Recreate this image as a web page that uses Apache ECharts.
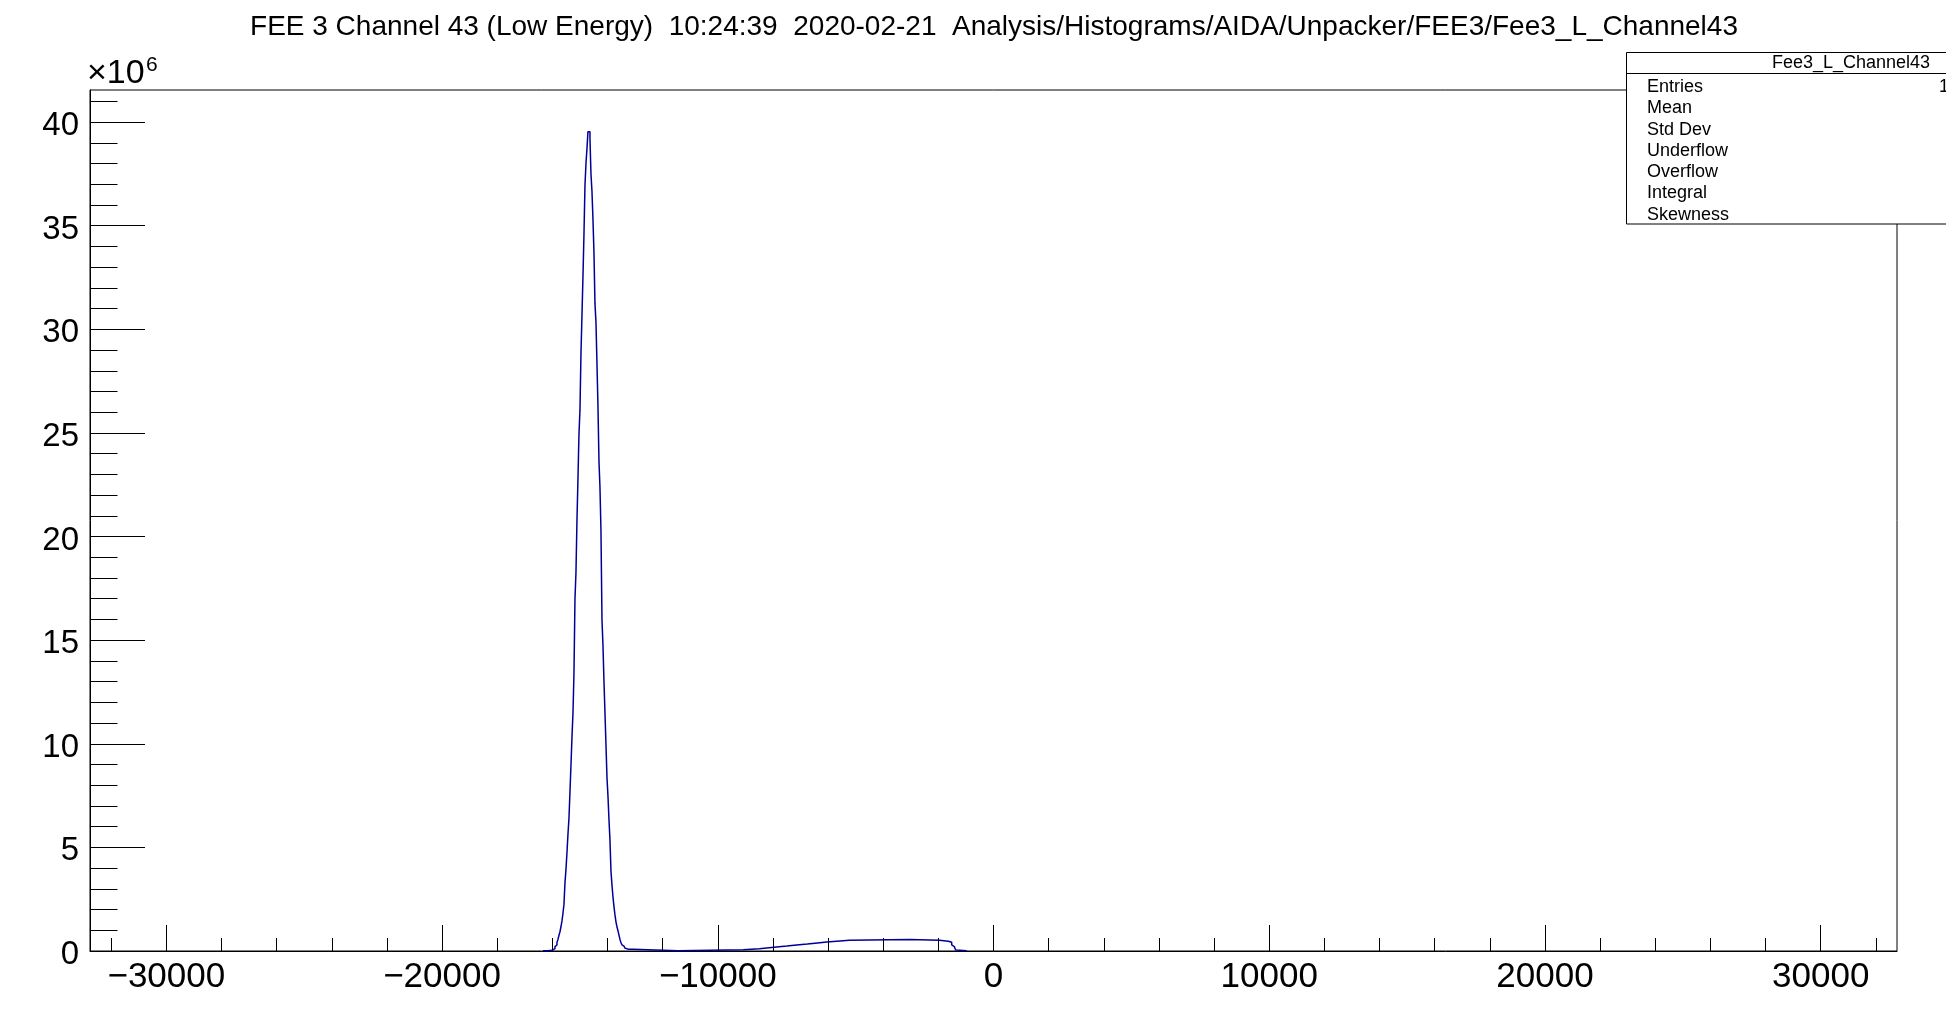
<!DOCTYPE html>
<html><head><meta charset="utf-8">
<script src="https://cdn.jsdelivr.net/npm/echarts@6/dist/echarts.min.js"></script>
<style>html,body{margin:0;padding:0;background:#fff}#c{width:1946px;height:1011px}</style>
</head><body><div id="c"></div>
<script>
// ---- data (counts in units of 10^6) ----
const titleText = 'FEE 3 Channel 43 (Low Energy)  10:24:39  2020-02-21  Analysis/Histograms/AIDA/Unpacker/FEE3/Fee3_L_Channel43';
const xRange = [-32768, 32768];
const yMax = 41.55;
// main peak: uniform bins
const peakStart = -16340;
const peakBinWidth = 36.27;
const peakCounts = [
  0.015, 0.015, 0.02, 0.015, 0.02, 0.02, 0.02, 0.03, 0.03,
  0.05, 0.08, 0.11, 0.21, 0.29, 0.42, 0.56, 0.76, 0.93, 1.17, 1.45, 1.82, 2.25,
  3.29, 3.94, 4.74, 5.64, 6.40, 7.68, 8.96, 10.31, 11.47, 13.40,
  16.97, 18.27, 20.79, 22.80, 24.94, 26.10, 28.83, 30.67, 32.56, 34.59, 36.94, 38.00, 38.72, 39.54, 39.54,
  39.20, 37.50, 36.66, 35.30, 33.70, 31.24, 30.34, 28.35, 26.29, 23.64, 22.37, 20.28, 16.00, 14.75, 13.02,
  11.50, 9.97, 8.38, 7.48, 6.35, 5.35, 3.86, 3.18, 2.62, 2.14, 1.74, 1.41, 1.17, 0.98, 0.77,
  0.56, 0.40, 0.30, 0.24, 0.19, 0.14, 0.11, 0.11, 0.08, 0.08, 0.08, 0.08, 0.08, 0.08
];
// broad low-level region: variable-width segments
const flatEdges = [-13039, -11432, -9075, -8494, -7961, -7501, -7138, -6754, -6384, -6050, -5687, -5230, -3028, -1966, -1639, -1516, -1469, -1422, -1371, -1335, -972];
const flatCounts = [0.015, 0.06, 0.11, 0.18, 0.24, 0.29, 0.34, 0.39, 0.43, 0.47, 0.52, 0.56, 0.52, 0.47, 0.42, 0.29, 0.21, 0.13, 0.05, 0.015];
// axis ticks
const xMajor = [-30000, -20000, -10000, 0, 10000, 20000, 30000];
const xMinor = [-32000, -28000, -26000, -24000, -22000, -18000, -16000, -14000, -12000, -8000, -6000, -4000, -2000, 2000, 4000, 6000, 8000, 12000, 14000, 16000, 18000, 22000, 24000, 26000, 28000, 32000];
const yMajor = [0, 5, 10, 15, 20, 25, 30, 35, 40];
const yMinor = [1, 2, 3, 4, 6, 7, 8, 9, 11, 12, 13, 14, 16, 17, 18, 19, 21, 22, 23, 24, 26, 27, 28, 29, 31, 32, 33, 34, 36, 37, 38, 39, 41];
const statsTitle = 'Fee3_L_Channel43';
const statsRows = ['Entries', 'Mean', 'Std Dev', 'Underflow', 'Overflow', 'Integral', 'Skewness'];

// ---- build step line ----
const bins = [];
peakCounts.forEach((v, i) => bins.push([peakStart + i * peakBinWidth, peakStart + (i + 1) * peakBinWidth, v]));
flatCounts.forEach((v, i) => bins.push([flatEdges[i], flatEdges[i + 1], v]));
const pts = [];
bins.forEach(b => { pts.push([b[0], b[2]]); pts.push([b[1], b[2]]); });

const FF = "'Liberation Sans', Arial, Helvetica, sans-serif";
const chart = echarts.init(document.getElementById('c'), null, {renderer: 'canvas'});
const statsX = 1626.5, statsY = 52.5;
const graphics = [
  {type: 'text', x: 994, y: 27, z: 100, style: {text: titleText, fontSize: 28, fontFamily: FF, fill: '#000', align: 'center', verticalAlign: 'middle'}},
  {type: 'text', x: 87, y: 74, z: 100, style: {text: '\u00d710', fontSize: 34, fontFamily: FF, fill: '#000', align: 'left', verticalAlign: 'middle'}},
  {type: 'text', x: 146, y: 65, z: 100, style: {text: '6', fontSize: 21, fontFamily: FF, fill: '#000', align: 'left', verticalAlign: 'middle'}},
  {type: 'rect', z: 100, shape: {x: statsX, y: statsY, width: 420, height: 171.5}, style: {fill: '#fff', stroke: '#000', lineWidth: 1}},
  {type: 'line', z: 101, shape: {x1: statsX, y1: 73.5, x2: 2046, y2: 73.5}, style: {stroke: '#000', lineWidth: 1}},
  {type: 'text', x: 1851, y: 63, z: 102, style: {text: statsTitle, fontSize: 18, fontFamily: FF, fill: '#000', align: 'center', verticalAlign: 'middle'}},
  {type: 'text', x: 1939, y: 87, z: 102, style: {text: '1', fontSize: 18, fontFamily: FF, fill: '#000', align: 'left', verticalAlign: 'middle'}}
];
statsRows.forEach((t, i) => graphics.push({type: 'text', x: 1647, y: 87 + i * 21.3, z: 102, style: {text: t, fontSize: 18, fontFamily: FF, fill: '#000', align: 'left', verticalAlign: 'middle'}}));

chart.setOption({
  animation: false,
  backgroundColor: '#fff',
  grid: {left: 90, top: 90, right: 49, bottom: 60, show: true, borderColor: '#000', borderWidth: 1, backgroundColor: 'transparent'},
  xAxis: [
    {type: 'value', min: xRange[0], max: xRange[1], position: 'bottom',
     axisLine: {show: true, onZero: false, lineStyle: {color: '#000', width: 1}},
     axisTick: {show: true, inside: true, length: 26, customValues: xMajor, lineStyle: {color: '#000', width: 1}},
     axisLabel: {show: true, customValues: xMajor, fontSize: 35, fontFamily: FF, color: '#000', margin: 9,
                 formatter: v => String(v).replace('-', '\u2212')},
     splitLine: {show: false}},
    {type: 'value', min: xRange[0], max: xRange[1], position: 'bottom',
     axisLine: {show: false, onZero: false},
     axisTick: {show: true, inside: true, length: 13, customValues: xMinor, lineStyle: {color: '#000', width: 1}},
     axisLabel: {show: false}, splitLine: {show: false}}
  ],
  yAxis: [
    {type: 'value', min: 0, max: yMax, position: 'left',
     axisLine: {show: true, onZero: false, lineStyle: {color: '#000', width: 1}},
     axisTick: {show: true, inside: true, length: 55, customValues: yMajor, lineStyle: {color: '#000', width: 1}},
     axisLabel: {show: true, customValues: yMajor, fontSize: 33, fontFamily: FF, color: '#000', margin: 11, verticalAlign: 'top', lineHeight: 8},
     splitLine: {show: false}},
    {type: 'value', min: 0, max: yMax, position: 'left',
     axisLine: {show: false, onZero: false},
     axisTick: {show: true, inside: true, length: 27.5, customValues: yMinor, lineStyle: {color: '#000', width: 1}},
     axisLabel: {show: false}, splitLine: {show: false}}
  ],
  series: [{
    type: 'line', xAxisIndex: 0, yAxisIndex: 0, data: pts, symbol: 'none', showSymbol: false,
    lineStyle: {color: '#000099', width: 1.5}, clip: true
  }],
  graphic: graphics
});
</script></body></html>
